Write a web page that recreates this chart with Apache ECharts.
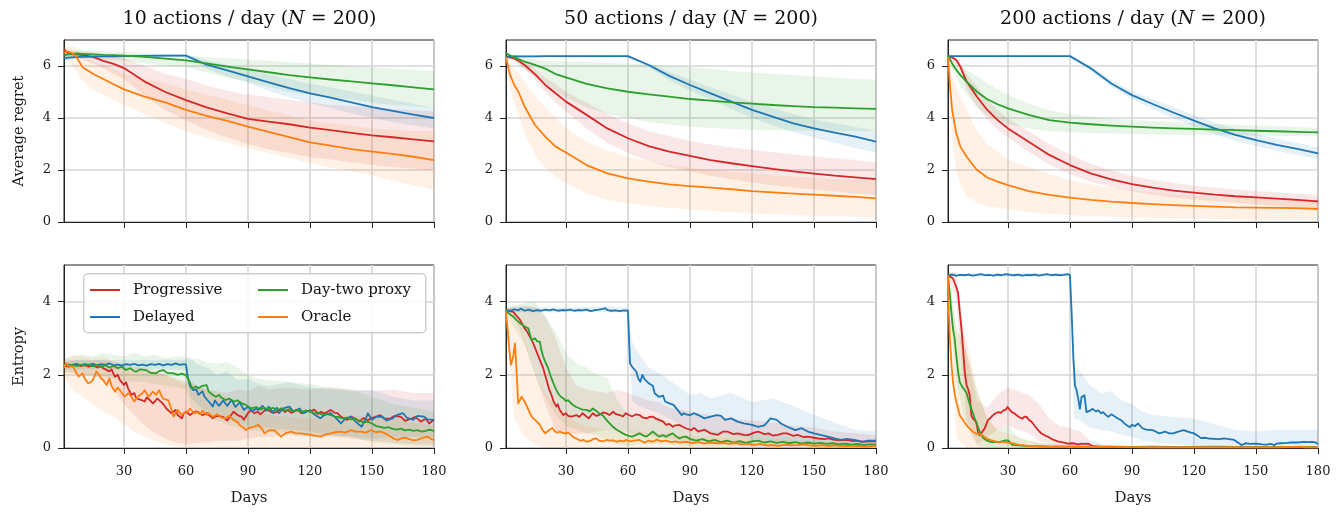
<!DOCTYPE html>
<html>
<head>
<meta charset="utf-8">
<script src="https://cdn.jsdelivr.net/npm/echarts@6/dist/echarts.min.js"></script>
<style>
html, body { margin: 0; padding: 0; background: #fff; }
#chart { width: 1343px; height: 512px; }
</style>
</head>
<body>
<div id="chart"></div>
<script>
// ---------- data ----------
var METHODS = ['Progressive', 'Delayed', 'Day-two proxy', 'Oracle'];
var PANEL_TITLES = ['10', '50', '200'];
var X_TICKS = [30, 60, 90, 120, 150, 180];
var REGRET_TICKS = [0, 2, 4, 6];
var ENTROPY_TICKS = [0, 2, 4];

// average regret, sampled on these days
var REGRET_DAYS = [1, 2, 3, 5, 7, 10, 15, 20, 25, 30, 40, 50, 60, 70, 80, 90, 100, 110, 120, 130, 140, 150, 160, 170, 180];

// 10 actions / day
var regret10_progressive = [6.65, 6.55, 6.5, 6.45, 6.45, 6.42, 6.35, 6.2, 6.08, 5.92, 5.4, 5.0, 4.69, 4.41, 4.18, 3.97, 3.86, 3.76, 3.63, 3.53, 3.43, 3.33, 3.26, 3.18, 3.1];
var regret10_progressive_lo = [6.55, 6.45, 6.4, 6.35, 6.3, 6.25, 6.1, 5.9, 5.7, 5.5, 4.85, 4.3, 3.9, 3.55, 3.25, 3.0, 2.8, 2.65, 2.5, 2.4, 2.3, 2.2, 2.12, 2.05, 1.98];
var regret10_progressive_hi = [6.75, 6.65, 6.6, 6.55, 6.55, 6.55, 6.55, 6.45, 6.4, 6.3, 6.0, 5.7, 5.5, 5.25, 5.05, 4.9, 4.8, 4.7, 4.6, 4.5, 4.45, 4.4, 4.35, 4.3, 4.25];
var regret10_delayed = [6.3, 6.31, 6.32, 6.33, 6.34, 6.35, 6.36, 6.37, 6.37, 6.38, 6.39, 6.4, 6.4, 6.05, 5.83, 5.6, 5.37, 5.15, 4.95, 4.78, 4.6, 4.42, 4.27, 4.13, 4.0];
var regret10_delayed_lo = [6.1, 6.15, 6.2, 6.25, 6.28, 6.3, 6.32, 6.32, 6.32, 6.33, 6.34, 6.35, 6.35, 5.9, 5.6, 5.35, 5.05, 4.8, 4.58, 4.38, 4.18, 4.0, 3.85, 3.72, 3.6];
var regret10_delayed_hi = [6.45, 6.44, 6.42, 6.42, 6.41, 6.41, 6.41, 6.42, 6.42, 6.43, 6.44, 6.45, 6.46, 6.2, 6.05, 5.85, 5.67, 5.5, 5.32, 5.17, 5.02, 4.86, 4.7, 4.55, 4.4];
var regret10_proxy = [6.4, 6.43, 6.45, 6.47, 6.48, 6.47, 6.45, 6.43, 6.42, 6.4, 6.35, 6.28, 6.22, 6.1, 5.98, 5.87, 5.76, 5.65, 5.56, 5.48, 5.41, 5.33, 5.26, 5.18, 5.1];
var regret10_proxy_lo = [6.2, 6.22, 6.25, 6.3, 6.32, 6.3, 6.28, 6.25, 6.22, 6.2, 6.1, 6.0, 5.95, 5.75, 5.55, 5.4, 5.2, 5.0, 4.9, 4.8, 4.7, 4.6, 4.5, 4.45, 4.4];
var regret10_proxy_hi = [6.6, 6.61, 6.62, 6.62, 6.62, 6.62, 6.6, 6.58, 6.55, 6.55, 6.5, 6.45, 6.4, 6.35, 6.3, 6.25, 6.2, 6.15, 6.1, 6.05, 6.0, 5.95, 5.9, 5.85, 5.8];
var regret10_oracle = [6.5, 6.55, 6.55, 6.5, 6.35, 5.95, 5.7, 5.5, 5.3, 5.1, 4.82, 4.6, 4.31, 4.08, 3.89, 3.67, 3.47, 3.26, 3.06, 2.94, 2.8, 2.71, 2.62, 2.51, 2.38];
var regret10_oracle_lo = [6.3, 6.25, 6.2, 6.0, 5.8, 5.4, 5.1, 4.9, 4.7, 4.5, 4.15, 3.8, 3.5, 3.25, 3.05, 2.85, 2.65, 2.45, 2.27, 2.1, 1.95, 1.8, 1.6, 1.4, 1.23];
var regret10_oracle_hi = [6.7, 6.75, 6.75, 6.75, 6.7, 6.4, 6.2, 6.05, 5.9, 5.7, 5.5, 5.35, 5.1, 4.9, 4.7, 4.5, 4.3, 4.1, 3.9, 3.8, 3.7, 3.6, 3.55, 3.5, 3.5];

// 50 actions / day
var regret50_progressive = [6.35, 6.34, 6.33, 6.29, 6.2, 6.04, 5.69, 5.27, 4.95, 4.63, 4.12, 3.6, 3.22, 2.92, 2.71, 2.54, 2.38, 2.26, 2.15, 2.04, 1.95, 1.86, 1.78, 1.72, 1.65];
var regret50_progressive_lo = [6.3, 6.28, 6.25, 6.2, 6.1, 5.9, 5.5, 5.0, 4.6, 4.25, 3.6, 3.05, 2.65, 2.35, 2.12, 1.95, 1.78, 1.65, 1.52, 1.42, 1.33, 1.25, 1.17, 1.1, 1.03];
var regret50_progressive_hi = [6.4, 6.4, 6.4, 6.38, 6.3, 6.18, 5.88, 5.55, 5.3, 5.0, 4.6, 4.15, 3.8, 3.5, 3.3, 3.12, 2.98, 2.87, 2.78, 2.68, 2.6, 2.52, 2.45, 2.38, 2.3];
var regret50_delayed = [6.35, 6.36, 6.36, 6.37, 6.37, 6.37, 6.37, 6.38, 6.38, 6.38, 6.38, 6.38, 6.38, 6.04, 5.62, 5.27, 4.95, 4.63, 4.31, 4.05, 3.79, 3.6, 3.44, 3.28, 3.09];
var regret50_delayed_lo = [6.32, 6.32, 6.32, 6.32, 6.32, 6.32, 6.32, 6.32, 6.32, 6.32, 6.32, 6.32, 6.32, 5.95, 5.45, 5.05, 4.7, 4.35, 4.0, 3.72, 3.45, 3.25, 3.05, 2.85, 2.65];
var regret50_delayed_hi = [6.42, 6.42, 6.42, 6.42, 6.42, 6.42, 6.42, 6.42, 6.42, 6.42, 6.42, 6.42, 6.42, 6.12, 5.78, 5.48, 5.18, 4.9, 4.62, 4.38, 4.14, 3.95, 3.8, 3.65, 3.5];
var regret50_proxy = [6.5, 6.45, 6.4, 6.33, 6.27, 6.17, 6.04, 5.9, 5.69, 5.56, 5.31, 5.14, 5.01, 4.91, 4.82, 4.73, 4.67, 4.6, 4.55, 4.5, 4.46, 4.42, 4.4, 4.37, 4.35];
var regret50_proxy_lo = [6.45, 6.35, 6.3, 6.2, 6.05, 5.85, 5.6, 5.35, 5.05, 4.8, 4.4, 4.15, 3.99, 3.85, 3.75, 3.67, 3.62, 3.58, 3.55, 3.53, 3.52, 3.51, 3.5, 3.5, 3.5];
var regret50_proxy_hi = [6.55, 6.53, 6.5, 6.45, 6.4, 6.35, 6.25, 6.2, 6.18, 6.17, 6.15, 6.12, 6.1, 6.05, 6.0, 5.95, 5.9, 5.8, 5.75, 5.7, 5.65, 5.6, 5.55, 5.5, 5.48];
var regret50_oracle = [6.35, 5.97, 5.65, 5.27, 5.01, 4.44, 3.73, 3.28, 2.9, 2.67, 2.19, 1.87, 1.68, 1.55, 1.45, 1.38, 1.32, 1.26, 1.19, 1.14, 1.09, 1.05, 1.01, 0.97, 0.91];
var regret50_oracle_lo = [6.3, 5.7, 5.2, 4.6, 4.1, 3.4, 2.6, 2.1, 1.75, 1.5, 1.1, 0.85, 0.72, 0.62, 0.55, 0.48, 0.43, 0.38, 0.33, 0.3, 0.27, 0.24, 0.22, 0.2, 0.18];
var regret50_oracle_hi = [6.4, 6.25, 6.1, 5.9, 5.7, 5.4, 4.85, 4.4, 4.0, 3.6, 3.1, 2.75, 2.5, 2.35, 2.2, 2.1, 2.0, 1.93, 1.87, 1.8, 1.75, 1.7, 1.65, 1.62, 1.6];

// 200 actions / day
var regret200_progressive = [6.35, 6.35, 6.33, 6.23, 5.97, 5.4, 4.82, 4.31, 3.92, 3.6, 3.09, 2.58, 2.19, 1.87, 1.64, 1.46, 1.32, 1.21, 1.13, 1.05, 0.99, 0.95, 0.9, 0.85, 0.79];
var regret200_progressive_lo = [6.3, 6.3, 6.28, 6.15, 5.8, 5.1, 4.45, 3.95, 3.55, 3.25, 2.7, 2.2, 1.85, 1.55, 1.35, 1.18, 1.05, 0.95, 0.87, 0.8, 0.74, 0.68, 0.62, 0.58, 0.53];
var regret200_progressive_hi = [6.4, 6.4, 6.38, 6.3, 6.12, 5.7, 5.2, 4.7, 4.3, 3.98, 3.5, 3.0, 2.6, 2.25, 1.98, 1.78, 1.62, 1.5, 1.4, 1.32, 1.25, 1.19, 1.14, 1.09, 1.05];
var regret200_delayed = [6.38, 6.38, 6.38, 6.38, 6.38, 6.38, 6.38, 6.38, 6.38, 6.38, 6.38, 6.38, 6.38, 5.91, 5.33, 4.88, 4.54, 4.21, 3.9, 3.6, 3.35, 3.15, 2.97, 2.81, 2.64];
var regret200_delayed_lo = [6.35, 6.35, 6.35, 6.35, 6.35, 6.35, 6.35, 6.35, 6.35, 6.35, 6.35, 6.35, 6.35, 5.82, 5.2, 4.72, 4.35, 4.0, 3.68, 3.38, 3.12, 2.92, 2.74, 2.58, 2.42];
var regret200_delayed_hi = [6.42, 6.42, 6.42, 6.42, 6.42, 6.42, 6.42, 6.42, 6.42, 6.42, 6.42, 6.42, 6.42, 6.0, 5.45, 5.03, 4.72, 4.42, 4.12, 3.83, 3.58, 3.38, 3.2, 3.04, 2.88];
var regret200_proxy = [6.4, 6.25, 6.1, 5.85, 5.65, 5.4, 5.01, 4.72, 4.53, 4.37, 4.12, 3.92, 3.82, 3.76, 3.71, 3.67, 3.63, 3.6, 3.58, 3.55, 3.53, 3.51, 3.49, 3.47, 3.45];
var regret200_proxy_lo = [6.35, 6.1, 5.9, 5.55, 5.25, 4.9, 4.4, 4.1, 3.9, 3.78, 3.6, 3.5, 3.45, 3.42, 3.4, 3.38, 3.37, 3.36, 3.35, 3.34, 3.33, 3.32, 3.31, 3.3, 3.3];
var regret200_proxy_hi = [6.45, 6.35, 6.3, 6.15, 6.0, 5.85, 5.6, 5.35, 5.1, 4.9, 4.55, 4.3, 4.15, 4.05, 3.97, 3.92, 3.88, 3.84, 3.8, 3.77, 3.74, 3.71, 3.68, 3.65, 3.62];
var regret200_oracle = [6.35, 5.2, 4.31, 3.41, 2.9, 2.51, 2.0, 1.71, 1.55, 1.42, 1.19, 1.04, 0.94, 0.85, 0.78, 0.73, 0.69, 0.65, 0.62, 0.59, 0.56, 0.55, 0.54, 0.53, 0.5];
var regret200_oracle_lo = [6.3, 4.4, 3.2, 2.0, 1.45, 1.0, 0.75, 0.62, 0.55, 0.48, 0.38, 0.32, 0.27, 0.23, 0.2, 0.18, 0.16, 0.14, 0.13, 0.12, 0.11, 0.1, 0.09, 0.09, 0.08];
var regret200_oracle_hi = [6.4, 6.1, 5.6, 5.2, 4.8, 4.35, 3.5, 3.0, 2.7, 2.4, 2.1, 1.85, 1.62, 1.45, 1.32, 1.22, 1.14, 1.07, 1.01, 0.96, 0.92, 0.9, 0.88, 0.86, 0.85];

// entropy: [day, value] pairs
var entropy10_progressive = [[1,2.25],[3,2.22],[5,2.26],[7,2.28],[9,2.24],[11,2.27],[13,2.22],[15,2.27],[17,2.2],[19,2.23],[20,2.18],[22,2.12],[23,2.09],[24,2.15],[25.6,1.95],[27,2.0],[28,1.86],[30,1.72],[31,1.8],[32,1.63],[33.7,1.45],[35,1.5],[36,1.36],[38.5,1.31],[40,1.27],[41,1.38],[42.5,1.31],[44,1.22],[45,1.27],[46,1.35],[47,1.31],[49,1.2],[50.5,1.08],[52,1.0],[53,0.95],[55,1.04],[56,0.9],[58,0.81],[59,0.95],[60,0.99],[62,0.9],[63,0.95],[65,1.0],[68,0.9],[70,0.95],[73,0.81],[75,0.88],[78,0.85],[80,0.75],[83,0.99],[85,0.9],[87,0.85],[88,0.77],[90,0.95],[91.5,1.04],[93,0.95],[94.7,0.99],[96,0.92],[98,1.02],[99.6,1.04],[102,0.96],[104.4,0.99],[106,1.08],[108,0.98],[109,1.04],[111,0.96],[114,1.04],[116,0.95],[118,1.02],[120.5,0.99],[122,1.05],[124,0.93],[125.3,0.99],[127,0.94],[130,1.04],[132,0.96],[133.4,0.95],[135,0.85],[138,0.77],[140,0.85],[142,0.8],[143.8,0.72],[146,0.82],[148,0.76],[149.5,0.81],[152,0.86],[154,0.9],[156,0.8],[159,0.81],[161,0.88],[164,0.85],[166,0.74],[168.8,0.8],[171,0.85],[173.6,0.72],[176,0.8],[177.7,0.67],[180,0.77]];
var entropy10_delayed = [[1,2.25],[3,2.28],[5,2.27],[7,2.3],[9,2.26],[11,2.29],[13,2.27],[15,2.3],[17,2.26],[19,2.29],[21,2.27],[23,2.31],[25,2.26],[27,2.28],[29,2.25],[31,2.29],[33,2.27],[35,2.3],[37,2.26],[39,2.28],[41,2.25],[43,2.29],[45,2.27],[47,2.3],[49,2.26],[51,2.29],[53,2.27],[55,2.31],[57,2.27],[59,2.29],[60,2.28],[61,1.9],[62,1.68],[63.5,1.58],[65,1.6],[66,1.45],[68,1.55],[69,1.4],[71,1.27],[73,1.13],[74,1.3],[76,1.15],[78,1.3],[80,1.15],[82,1.31],[84,1.12],[86,1.25],[88,1.04],[90,1.13],[92,1.0],[94,1.08],[95,1.04],[97,1.15],[99,1.02],[100,1.13],[102,0.98],[104,1.1],[105,0.95],[107,1.08],[110,1.13],[112,1.0],[115,1.08],[117,0.95],[120,1.04],[122,0.92],[125,0.81],[127,0.9],[130,0.95],[132,0.85],[135,0.67],[137,0.8],[140,0.86],[142,0.72],[145,0.58],[147,0.8],[148,0.95],[150,0.77],[152,0.85],[155,0.86],[157,0.75],[160,0.81],[162,0.9],[165,0.95],[167,0.82],[170,0.77],[172,0.88],[175,0.86],[177,0.78],[180,0.77]];
var entropy10_proxy = [[1,2.27],[3,2.25],[5,2.28],[7,2.24],[9,2.27],[11,2.25],[13,2.28],[15,2.23],[17,2.27],[19,2.22],[21,2.26],[23,2.2],[25,2.24],[27,2.18],[29,2.22],[31,2.13],[33,2.18],[35,2.1],[36,2.09],[38,2.15],[41,2.12],[43,2.05],[45.5,2.04],[47,2.1],[49,2.13],[51,2.05],[54,2.04],[56,2.0],[58,2.03],[60,1.99],[61,1.9],[62,1.77],[63,1.63],[65,1.68],[66,1.63],[68,1.7],[70,1.72],[71,1.54],[73,1.45],[74.5,1.4],[76,1.45],[77,1.38],[79,1.31],[81,1.35],[83,1.27],[85,1.3],[87,1.22],[89,1.18],[90,1.13],[92,1.08],[94,1.12],[96,1.05],[98,1.1],[100,1.05],[102,1.1],[104,1.03],[106,1.08],[108,1.02],[110,1.06],[112,1.0],[114,1.05],[116,0.98],[118,1.02],[120,1.0],[122,0.94],[124,0.97],[126,0.9],[128,0.93],[130,0.9],[132,0.86],[134,0.84],[136,0.81],[138,0.83],[140,0.78],[142,0.8],[144,0.74],[146,0.7],[148,0.72],[150,0.67],[152,0.6],[154,0.58],[156,0.55],[158,0.57],[160,0.52],[162,0.5],[164,0.53],[166,0.48],[168,0.5],[170,0.47],[172,0.49],[174,0.45],[176,0.47],[178,0.5],[180,0.46]];
var entropy10_oracle = [[1,2.2],[2,2.31],[3,2.25],[5.5,2.22],[7,2.05],[8,1.95],[10,2.04],[11,1.9],[12.7,1.77],[14,1.8],[15,1.86],[16.7,2.09],[18,2.0],[19,1.9],[20,1.85],[21.6,1.72],[23,1.9],[24,1.7],[25.6,1.54],[27,1.65],[28,1.58],[30.4,1.4],[32,1.5],[33,1.45],[35,1.27],[36,1.35],[37.7,1.45],[39,1.5],[40,1.58],[42,1.4],[44,1.54],[45.5,1.45],[47,1.58],[48,1.45],[49,1.35],[51.5,1.3],[53,1.05],[54,0.86],[55,0.95],[56,1.04],[58,0.9],[59,0.95],[61,1.0],[62,1.08],[64,0.95],[65,0.98],[67,0.92],[68,1.02],[70,0.9],[71,0.95],[73,0.85],[75,0.92],[77,0.84],[79,0.81],[81,0.88],[83,0.77],[85,0.7],[86,0.63],[88,0.55],[89,0.49],[91,0.56],[93,0.58],[95,0.63],[97,0.5],[98,0.4],[100,0.48],[102.8,0.49],[104,0.42],[106,0.31],[108,0.4],[110.8,0.45],[113,0.4],[115.7,0.4],[118,0.38],[120.5,0.36],[123,0.33],[125.3,0.31],[127,0.36],[130,0.4],[132,0.43],[135,0.45],[137,0.42],[140,0.49],[142,0.45],[144.7,0.45],[147,0.42],[149.5,0.49],[152,0.43],[154.3,0.45],[157,0.38],[159,0.31],[160.5,0.26],[162.4,0.22],[165,0.28],[167.2,0.26],[170,0.21],[172,0.22],[174.5,0.28],[176.8,0.31],[178.5,0.25],[180,0.22]];

var entropy50_progressive = [[1,3.75],[3,3.74],[4.5,3.72],[6,3.62],[7.8,3.5],[10,3.27],[11,3.2],[12.6,3.04],[14.2,2.86],[15.8,2.63],[17.4,2.4],[19,2.18],[20.6,1.86],[22,1.58],[23,1.45],[24,1.27],[25.4,1.13],[26,1.2],[27,1.04],[28.7,0.9],[30,0.95],[31,0.88],[32.7,0.86],[35,0.9],[36.5,0.85],[38,0.95],[39.5,0.88],[41,0.81],[43,0.95],[44.5,0.88],[46,0.9],[48,0.97],[49.6,0.95],[51,0.9],[52.8,0.99],[54,0.93],[56,0.9],[57.5,0.86],[59,0.95],[60.5,0.9],[62,0.86],[64,0.92],[65.6,0.9],[67,0.84],[69,0.81],[70.5,0.85],[72,0.86],[73.5,0.8],[75,0.77],[77,0.72],[78.5,0.63],[80,0.66],[81.7,0.58],[83,0.62],[85,0.63],[86.5,0.58],[88,0.54],[90.6,0.49],[92,0.55],[94,0.45],[97,0.5],[100,0.4],[103.5,0.36],[106,0.45],[108,0.45],[111,0.38],[113,0.4],[116,0.36],[118,0.35],[121,0.42],[123,0.45],[126,0.38],[128,0.4],[130,0.34],[132.5,0.36],[135,0.4],[137,0.4],[140,0.33],[142,0.36],[145,0.3],[147,0.31],[150,0.28],[152,0.26],[155,0.24],[157,0.26],[160,0.22],[163,0.21],[166,0.22],[169,0.19],[171,0.2],[174,0.17],[177.6,0.19],[180,0.18]];
var entropy50_delayed = [[1,3.77],[3,3.75],[5,3.79],[7,3.76],[8,3.81],[10,3.75],[12,3.78],[14,3.74],[16,3.77],[18,3.75],[20,3.78],[22,3.76],[24,3.79],[26,3.75],[28,3.77],[30,3.76],[32,3.78],[34,3.75],[36,3.77],[38,3.76],[40,3.78],[42,3.74],[44,3.77],[46,3.78],[48,3.8],[49,3.82],[50,3.77],[52,3.75],[54,3.76],[56,3.74],[58,3.76],[60,3.75],[61,2.31],[62,2.22],[64,2.09],[65,1.9],[66,1.81],[67,2.0],[68,1.88],[70,1.77],[72,1.7],[73,1.49],[75,1.4],[77,1.43],[78,1.27],[80,1.22],[82,1.18],[84,1.04],[86,0.9],[87,0.95],[88,0.92],[90,0.9],[92,0.95],[94,0.9],[97,0.81],[100,0.86],[103,0.9],[105,0.88],[107,0.77],[110,0.81],[113,0.72],[116,0.67],[120,0.63],[123,0.58],[126,0.62],[129,0.81],[132,0.77],[134,0.67],[137,0.58],[141,0.49],[144,0.54],[147,0.45],[150,0.4],[153,0.36],[156.6,0.31],[160,0.26],[163,0.22],[166,0.25],[169.5,0.22],[173,0.17],[176,0.2],[180,0.2]];
var entropy50_proxy = [[1,3.75],[3,3.65],[4.5,3.59],[6,3.5],[7.8,3.41],[10,3.32],[11.8,3.27],[12.6,3.1],[13.4,2.95],[15,3.0],[16,2.92],[17.4,2.9],[18,2.7],[19,2.5],[20,2.35],[21.4,2.18],[23,1.9],[24.6,1.68],[26.2,1.49],[27.5,1.4],[28.7,1.36],[30,1.28],[31,1.31],[32,1.25],[33.5,1.17],[35,1.12],[36.7,1.08],[38,1.05],[40,1.04],[41.5,1.0],[43,1.08],[44.5,1.02],[46,0.95],[48,0.88],[49.6,0.77],[51,0.68],[52.8,0.58],[54,0.52],[56,0.45],[57.5,0.4],[59,0.36],[60.5,0.33],[62,0.31],[64,0.36],[65.6,0.4],[67,0.35],[69,0.31],[70.5,0.38],[72,0.45],[73.5,0.38],[75,0.31],[77,0.35],[78.5,0.31],[80,0.36],[81.7,0.4],[83,0.33],[85,0.26],[86.5,0.3],[88,0.31],[90,0.25],[93,0.2],[96,0.24],[99,0.18],[102,0.22],[105,0.16],[108,0.2],[111,0.15],[114,0.19],[117,0.14],[120,0.18],[123,0.2],[126,0.15],[129,0.18],[132,0.14],[135,0.17],[138,0.13],[141,0.16],[144,0.12],[147,0.15],[150,0.12],[153,0.14],[156,0.11],[159,0.13],[162,0.1],[165,0.12],[168,0.09],[171,0.11],[174,0.08],[177,0.1],[180,0.09]];
var entropy50_oracle = [[1,3.75],[1.8,3.22],[2.6,2.68],[3.4,2.27],[4.5,2.5],[5.3,2.86],[6,2.22],[6.9,1.22],[7.7,1.3],[8.5,1.4],[9.2,1.35],[10,1.27],[11,1.15],[12.6,0.95],[13.5,0.85],[15,0.77],[16,0.72],[17.4,0.63],[18.5,0.5],[20,0.4],[21,0.45],[22,0.49],[23.5,0.55],[24.6,0.45],[26,0.42],[27,0.45],[28,0.42],[29.5,0.4],[31,0.42],[32,0.38],[33.5,0.3],[35,0.26],[37,0.2],[38.5,0.22],[40,0.17],[42,0.2],[43,0.24],[44.7,0.26],[46,0.2],[48,0.18],[49.6,0.22],[51,0.2],[53,0.21],[54.5,0.17],[56,0.2],[58,0.18],[59,0.22],[61,0.18],[63,0.2],[65.6,0.22],[68,0.15],[70,0.2],[72,0.17],[74,0.23],[76,0.18],[78.5,0.2],[81,0.16],[83,0.18],[85,0.15],[88,0.17],[91,0.13],[94,0.16],[97,0.12],[100,0.15],[103,0.13],[106,0.14],[109,0.11],[112,0.14],[115,0.1],[118,0.12],[121,0.08],[124,0.11],[127,0.07],[130,0.08],[133,0.06],[136,0.09],[139,0.07],[142,0.08],[145,0.1],[148,0.07],[151,0.06],[154,0.08],[157,0.05],[160,0.07],[163,0.05],[166,0.06],[169,0.05],[172,0.06],[175,0.04],[178,0.05],[180,0.05]];

var entropy200_progressive = [[1,4.72],[3.4,4.63],[5,4.4],[5.9,4.22],[6.7,3.72],[7.5,3.26],[8.3,2.71],[9.1,2.08],[10,1.71],[10.8,1.6],[11.5,1.44],[12.3,0.89],[13.1,0.8],[14,0.85],[14.7,0.71],[15.5,0.44],[16.3,0.35],[17.1,0.3],[18.7,0.53],[20.3,0.76],[21.5,0.82],[22.7,0.89],[24,0.95],[25.4,0.98],[26.5,0.96],[27.9,1.03],[29,1.05],[29.8,1.12],[30.8,1.05],[31.9,0.98],[33,0.95],[34.3,0.89],[35.5,0.84],[37,0.8],[38,0.86],[39,0.85],[40,0.78],[41.5,0.71],[43,0.6],[44,0.53],[45.2,0.45],[46.4,0.39],[48,0.34],[49.6,0.3],[51,0.25],[52.8,0.21],[54,0.18],[56,0.16],[57.5,0.14],[59,0.12],[61,0.13],[62.4,0.12],[64,0.1],[65.6,0.12],[67,0.11],[68.8,0.12],[70,0.08],[71,0.05],[75,0.03],[85,0.03],[100,0.02],[120,0.02],[140,0.02],[160,0.02],[180,0.02]];
var entropy200_delayed = [[1,4.72],[3,4.74],[5,4.71],[7,4.73],[9,4.72],[11,4.74],[13,4.71],[15,4.73],[17,4.75],[19,4.72],[21,4.73],[23,4.71],[25,4.74],[27,4.72],[29,4.75],[31,4.73],[33,4.72],[35,4.74],[37,4.71],[39,4.73],[41,4.72],[43,4.74],[45,4.71],[47,4.73],[49,4.75],[51,4.72],[53,4.74],[55,4.72],[57,4.73],[59,4.75],[60,4.72],[60.8,3.72],[61.6,2.53],[62.4,1.71],[63.2,1.58],[64,1.35],[64.8,1.07],[65.6,1.39],[67,1.44],[68,0.98],[69.7,1.02],[71,1.07],[72.5,1.0],[73.7,1.03],[75,0.95],[76,0.98],[77.5,0.9],[78.5,0.85],[80,0.92],[81,0.89],[82,0.85],[83.4,0.8],[85,0.75],[86.6,0.66],[88,0.6],[89,0.57],[90,0.63],[91.5,0.6],[93,0.67],[95,0.54],[97,0.5],[100,0.49],[101.5,0.45],[103,0.4],[104.5,0.42],[106,0.45],[108,0.4],[110,0.4],[112,0.44],[115,0.49],[117,0.45],[118.6,0.42],[120,0.4],[122,0.33],[123.4,0.27],[125,0.28],[127,0.26],[130,0.25],[132,0.24],[134.7,0.26],[137,0.24],[139.5,0.22],[141,0.16],[142,0.12],[143,0.08],[145,0.13],[147,0.11],[150,0.12],[153,0.1],[155,0.09],[157,0.11],[159,0.08],[160,0.12],[162,0.13],[165,0.14],[167,0.15],[170,0.15],[173.3,0.17],[175,0.16],[177.4,0.17],[179,0.15],[180,0.11]];
var entropy200_proxy = [[1,4.72],[1.8,4.26],[2.6,3.72],[3.4,3.26],[4.2,2.99],[5,2.53],[5.9,2.08],[6.7,1.8],[7.9,1.67],[9.1,1.58],[10,1.5],[10.7,1.35],[11.5,1.2],[12.3,1.07],[13.1,0.95],[14,0.8],[14.7,0.7],[15.5,0.57],[16.3,0.45],[17.1,0.35],[18,0.28],[19.5,0.21],[21,0.18],[22,0.16],[24,0.17],[25.4,0.16],[27,0.18],[28.7,0.21],[30.3,0.2],[31,0.15],[31.9,0.09],[33,0.08],[35,0.07],[40,0.05],[50,0.04],[60,0.04],[70,0.04],[80,0.04],[90,0.03],[100,0.04],[110,0.03],[120,0.03],[130,0.04],[140,0.03],[150,0.03],[160,0.03],[170,0.03],[180,0.03]];
var entropy200_oracle = [[1,4.72],[1.4,3.72],[1.9,2.99],[2.6,2.35],[3.4,1.8],[4.2,1.48],[5,1.26],[5.9,1.07],[6.7,0.89],[8.3,0.76],[10,0.62],[11.5,0.53],[13.1,0.44],[14.7,0.39],[16.3,0.39],[17.5,0.35],[18.7,0.3],[20,0.25],[22,0.21],[24,0.18],[25.4,0.16],[28,0.16],[30.3,0.15],[32,0.13],[35,0.09],[38,0.07],[40,0.05],[45,0.05],[50,0.04],[60,0.03],[80,0.03],[100,0.02],[120,0.02],[140,0.02],[160,0.02],[172,0.04],[174,0.02],[180,0.02]];

// entropy spread bands, sampled on these days
var BAND_DAYS = [1, 5, 10, 15, 20, 25, 30, 35, 40, 45, 50, 55, 60, 62, 65, 70, 75, 80, 85, 90, 95, 100, 110, 120, 130, 140, 150, 160, 170, 180];

var entropy10_progressive_lo = [2.1, 2.05, 2.0, 2.0, 1.85, 1.6, 1.2, 0.9, 0.6, 0.4, 0.25, 0.15, 0.1, 0.1, 0.15, 0.15, 0.2, 0.2, 0.2, 0.25, 0.3, 0.3, 0.35, 0.3, 0.3, 0.25, 0.2, 0.15, 0.1, 0.1];
var entropy10_progressive_hi = [2.35, 2.4, 2.4, 2.4, 2.4, 2.35, 2.3, 2.2, 2.2, 2.1, 2.0, 1.9, 1.8, 1.85, 1.7, 1.6, 1.55, 1.5, 1.6, 1.55, 1.7, 1.6, 1.65, 1.6, 1.65, 1.6, 1.55, 1.6, 1.5, 1.5];
var entropy10_delayed_lo = [2.15, 2.15, 2.14, 2.16, 2.15, 2.14, 2.15, 2.16, 2.14, 2.15, 2.15, 2.14, 2.12, 1.4, 1.2, 1.0, 0.85, 0.8, 0.7, 0.6, 0.55, 0.55, 0.5, 0.45, 0.35, 0.3, 0.25, 0.3, 0.3, 0.3];
var entropy10_delayed_hi = [2.4, 2.4, 2.42, 2.4, 2.41, 2.4, 2.42, 2.4, 2.41, 2.4, 2.42, 2.4, 2.42, 2.5, 2.3, 2.2, 2.0, 2.1, 1.85, 1.9, 1.75, 1.7, 1.8, 1.65, 1.6, 1.55, 1.6, 1.4, 1.3, 1.3];
var entropy10_proxy_lo = [2.05, 2.05, 2.0, 1.95, 1.95, 1.9, 1.85, 1.8, 1.8, 1.75, 1.7, 1.65, 1.6, 1.2, 1.0, 0.9, 0.75, 0.65, 0.55, 0.5, 0.45, 0.45, 0.4, 0.35, 0.35, 0.3, 0.15, 0.1, 0.05, 0.05];
var entropy10_proxy_hi = [2.45, 2.5, 2.55, 2.5, 2.6, 2.55, 2.5, 2.6, 2.5, 2.55, 2.45, 2.5, 2.5, 2.4, 2.45, 2.35, 2.3, 2.35, 2.2, 2.0, 1.9, 1.85, 1.8, 1.75, 1.65, 1.6, 1.4, 1.2, 1.1, 1.0];
var entropy10_oracle_lo = [2.0, 1.6, 1.4, 1.2, 1.0, 0.85, 0.65, 0.45, 0.3, 0.2, 0.1, 0.05, 0, 0, 0.02, 0, 0, 0, 0, 0, 0, 0, 0, 0, 0, 0, 0, 0, 0, 0];
var entropy10_oracle_hi = [2.4, 2.55, 2.5, 2.45, 2.5, 2.35, 2.2, 2.15, 2.1, 2.1, 2.0, 1.85, 1.75, 1.8, 1.7, 1.6, 1.5, 1.4, 1.2, 1.1, 1.0, 0.9, 0.85, 0.8, 0.85, 0.9, 0.85, 0.8, 0.7, 0.6];

var entropy50_progressive_lo = [3.7, 3.6, 2.9, 2.0, 1.2, 0.5, 0.35, 0.4, 0.4, 0.45, 0.5, 0.5, 0.45, 0.4, 0.4, 0.35, 0.3, 0.25, 0.2, 0.15, 0.12, 0.1, 0.08, 0.06, 0.05, 0.05, 0.04, 0.04, 0.03, 0.03];
var entropy50_progressive_hi = [3.8, 3.85, 3.9, 3.85, 3.6, 3.0, 2.2, 1.7, 1.6, 1.55, 1.5, 1.6, 1.5, 1.45, 1.4, 1.3, 1.25, 1.1, 1.05, 1.0, 0.95, 0.9, 0.8, 0.75, 0.7, 0.6, 0.55, 0.45, 0.4, 0.35];
var entropy50_delayed_lo = [3.7, 3.7, 3.72, 3.7, 3.71, 3.7, 3.72, 3.7, 3.71, 3.72, 3.7, 3.71, 3.7, 1.3, 1.15, 1.05, 0.95, 0.8, 0.65, 0.55, 0.45, 0.4, 0.35, 0.25, 0.2, 0.15, 0.1, 0.05, 0.05, 0.05];
var entropy50_delayed_hi = [3.85, 3.84, 3.85, 3.84, 3.85, 3.84, 3.85, 3.86, 3.85, 3.86, 3.87, 3.85, 3.84, 2.9, 2.6, 2.2, 2.05, 1.85, 1.65, 1.45, 1.5, 1.35, 1.5, 1.25, 1.35, 1.15, 0.9, 0.7, 0.5, 0.45];
var entropy50_proxy_lo = [3.7, 3.3, 2.8, 2.0, 1.4, 0.9, 0.6, 0.5, 0.4, 0.35, 0.2, 0.1, 0.05, 0.05, 0.1, 0.1, 0.1, 0.1, 0.05, 0.05, 0.05, 0.05, 0.05, 0.03, 0.03, 0.02, 0.02, 0.02, 0.02, 0.02];
var entropy50_proxy_hi = [3.8, 3.9, 3.95, 4.0, 3.6, 3.2, 2.6, 2.3, 2.2, 2.0, 1.9, 1.3, 0.9, 0.8, 0.9, 0.8, 0.85, 0.7, 0.6, 0.5, 0.5, 0.45, 0.4, 0.4, 0.35, 0.3, 0.3, 0.25, 0.2, 0.2];
var entropy50_oracle_lo = [3.6, 0.8, 0.3, 0.1, 0, 0, 0, 0, 0, 0, 0, 0, 0, 0, 0, 0, 0, 0, 0, 0, 0, 0, 0, 0, 0, 0, 0, 0, 0, 0];
var entropy50_oracle_hi = [3.85, 3.8, 3.0, 2.0, 1.5, 1.1, 0.9, 0.7, 0.6, 0.55, 0.5, 0.5, 0.45, 0.45, 0.45, 0.4, 0.4, 0.4, 0.35, 0.35, 0.3, 0.3, 0.3, 0.25, 0.25, 0.2, 0.2, 0.18, 0.15, 0.15];

var entropy200_progressive_lo = [4.65, 4.1, 0.8, 0.1, 0.3, 0.5, 0.6, 0.5, 0.4, 0.2, 0.1, 0.05, 0.05, 0.04, 0.04, 0.02, 0.01, 0.01, 0.01, 0.01, 0.01, 0.01, 0.01, 0.01, 0.01, 0.01, 0.01, 0.01, 0.01, 0.01];
var entropy200_progressive_hi = [4.8, 4.78, 2.6, 1.3, 1.1, 1.45, 1.65, 1.55, 1.45, 1.2, 0.8, 0.6, 0.55, 0.5, 0.45, 0.2, 0.1, 0.08, 0.06, 0.05, 0.05, 0.05, 0.05, 0.05, 0.05, 0.05, 0.05, 0.05, 0.05, 0.05];
var entropy200_delayed_lo = [4.68, 4.68, 4.69, 4.68, 4.69, 4.68, 4.69, 4.68, 4.68, 4.69, 4.68, 4.69, 4.68, 0.8, 0.75, 0.55, 0.5, 0.45, 0.35, 0.3, 0.2, 0.15, 0.1, 0.05, 0.03, 0.02, 0.01, 0.01, 0.01, 0.01];
var entropy200_delayed_hi = [4.78, 4.77, 4.78, 4.78, 4.77, 4.78, 4.78, 4.77, 4.78, 4.78, 4.77, 4.78, 4.78, 2.2, 2.1, 1.7, 1.5, 1.55, 1.3, 1.2, 1.0, 0.9, 0.85, 0.8, 0.65, 0.5, 0.45, 0.5, 0.5, 0.5];
var entropy200_proxy_lo = [4.65, 1.8, 0.6, 0.05, 0.02, 0.02, 0.05, 0.02, 0.01, 0.01, 0.01, 0.01, 0.01, 0.01, 0.01, 0.01, 0.01, 0.01, 0.01, 0.01, 0.01, 0.01, 0.01, 0.01, 0.01, 0.01, 0.01, 0.01, 0.01, 0.01];
var entropy200_proxy_hi = [4.8, 3.3, 2.6, 1.6, 0.8, 0.5, 0.6, 0.3, 0.2, 0.15, 0.1, 0.08, 0.08, 0.07, 0.07, 0.06, 0.06, 0.05, 0.05, 0.05, 0.05, 0.05, 0.05, 0.05, 0.05, 0.05, 0.05, 0.05, 0.05, 0.05];
var entropy200_oracle_lo = [4.6, 0.3, 0, 0, 0, 0, 0, 0, 0, 0, 0, 0, 0, 0, 0, 0, 0, 0, 0, 0, 0, 0, 0, 0, 0, 0, 0, 0, 0, 0];
var entropy200_oracle_hi = [4.8, 3.2, 3.0, 1.6, 0.8, 0.5, 0.4, 0.3, 0.2, 0.15, 0.12, 0.1, 0.08, 0.08, 0.07, 0.06, 0.05, 0.05, 0.05, 0.05, 0.05, 0.05, 0.05, 0.05, 0.05, 0.05, 0.05, 0.05, 0.05, 0.05];

// ---------- layout & style ----------
var FONT = "'DejaVu Serif', serif";
var COLORS = {
    'Progressive': '#d62728',
    'Delayed': '#1f77b4',
    'Day-two proxy': '#2ca02c',
    'Oracle': '#ff7f0e'
};
var COL_LEFT = [64, 506, 948];
var COL_WIDTH = 370;
var ROW_TOP = [40, 265];
var ROW_HEIGHT = [182, 183];

function zip(xs, ys) {
    return xs.map(function (x, i) { return [x, ys[i]]; });
}

var panels = [
    { row: 0, col: 0, lines: {
        'Progressive': zip(REGRET_DAYS, regret10_progressive),
        'Delayed': zip(REGRET_DAYS, regret10_delayed),
        'Day-two proxy': zip(REGRET_DAYS, regret10_proxy),
        'Oracle': zip(REGRET_DAYS, regret10_oracle)
      }, bandDays: REGRET_DAYS, bands: {
        'Progressive': [regret10_progressive_lo, regret10_progressive_hi],
        'Delayed': [regret10_delayed_lo, regret10_delayed_hi],
        'Day-two proxy': [regret10_proxy_lo, regret10_proxy_hi],
        'Oracle': [regret10_oracle_lo, regret10_oracle_hi]
      } },
    { row: 0, col: 1, lines: {
        'Progressive': zip(REGRET_DAYS, regret50_progressive),
        'Delayed': zip(REGRET_DAYS, regret50_delayed),
        'Day-two proxy': zip(REGRET_DAYS, regret50_proxy),
        'Oracle': zip(REGRET_DAYS, regret50_oracle)
      }, bandDays: REGRET_DAYS, bands: {
        'Progressive': [regret50_progressive_lo, regret50_progressive_hi],
        'Delayed': [regret50_delayed_lo, regret50_delayed_hi],
        'Day-two proxy': [regret50_proxy_lo, regret50_proxy_hi],
        'Oracle': [regret50_oracle_lo, regret50_oracle_hi]
      } },
    { row: 0, col: 2, lines: {
        'Progressive': zip(REGRET_DAYS, regret200_progressive),
        'Delayed': zip(REGRET_DAYS, regret200_delayed),
        'Day-two proxy': zip(REGRET_DAYS, regret200_proxy),
        'Oracle': zip(REGRET_DAYS, regret200_oracle)
      }, bandDays: REGRET_DAYS, bands: {
        'Progressive': [regret200_progressive_lo, regret200_progressive_hi],
        'Delayed': [regret200_delayed_lo, regret200_delayed_hi],
        'Day-two proxy': [regret200_proxy_lo, regret200_proxy_hi],
        'Oracle': [regret200_oracle_lo, regret200_oracle_hi]
      } },
    { row: 1, col: 0, lines: {
        'Progressive': entropy10_progressive,
        'Delayed': entropy10_delayed,
        'Day-two proxy': entropy10_proxy,
        'Oracle': entropy10_oracle
      }, bandDays: BAND_DAYS, bands: {
        'Progressive': [entropy10_progressive_lo, entropy10_progressive_hi],
        'Delayed': [entropy10_delayed_lo, entropy10_delayed_hi],
        'Day-two proxy': [entropy10_proxy_lo, entropy10_proxy_hi],
        'Oracle': [entropy10_oracle_lo, entropy10_oracle_hi]
      } },
    { row: 1, col: 1, lines: {
        'Progressive': entropy50_progressive,
        'Delayed': entropy50_delayed,
        'Day-two proxy': entropy50_proxy,
        'Oracle': entropy50_oracle
      }, bandDays: BAND_DAYS, bands: {
        'Progressive': [entropy50_progressive_lo, entropy50_progressive_hi],
        'Delayed': [entropy50_delayed_lo, entropy50_delayed_hi],
        'Day-two proxy': [entropy50_proxy_lo, entropy50_proxy_hi],
        'Oracle': [entropy50_oracle_lo, entropy50_oracle_hi]
      } },
    { row: 1, col: 2, lines: {
        'Progressive': entropy200_progressive,
        'Delayed': entropy200_delayed,
        'Day-two proxy': entropy200_proxy,
        'Oracle': entropy200_oracle
      }, bandDays: BAND_DAYS, bands: {
        'Progressive': [entropy200_progressive_lo, entropy200_progressive_hi],
        'Delayed': [entropy200_delayed_lo, entropy200_delayed_hi],
        'Day-two proxy': [entropy200_proxy_lo, entropy200_proxy_hi],
        'Oracle': [entropy200_oracle_lo, entropy200_oracle_hi]
      } }
];

// band = one filled polygon between lo and hi, placed through the axis scales
function bandSeries(idx, color, days, lo, hi) {
    return {
        type: 'custom', xAxisIndex: idx, yAxisIndex: idx, silent: true, z: 1, clip: true,
        data: days.map(function (d, i) { return [d, lo[i], hi[i]]; }),
        encode: { x: 0, y: [1, 2] },
        renderItem: function (params, api) {
            if (params.dataIndex !== 0) return;
            var pts = [], i;
            for (i = 0; i < days.length; i++) pts.push(api.coord([days[i], hi[i]]));
            for (i = days.length - 1; i >= 0; i--) pts.push(api.coord([days[i], lo[i]]));
            return {
                type: 'polygon',
                shape: { points: pts },
                style: { fill: echarts.color.modifyAlpha(color, 0.11), stroke: null }
            };
        }
    };
}

var grids = [], xAxes = [], yAxes = [], series = [];

panels.forEach(function (p, idx) {
    var bottomRow = p.row === 1;
    var yTicks = bottomRow ? ENTROPY_TICKS : REGRET_TICKS;
    grids.push({
        left: COL_LEFT[p.col], top: ROW_TOP[p.row],
        width: COL_WIDTH, height: ROW_HEIGHT[p.row],
        show: true, borderColor: '#222', borderWidth: 1, backgroundColor: 'transparent'
    });
    xAxes.push({
        type: 'value', gridIndex: idx, min: 1, max: 180,
        name: bottomRow ? 'Days' : '', nameLocation: 'middle', nameGap: 43,
        nameTextStyle: { fontFamily: FONT, fontSize: 15, color: '#1a1a1a' },
        axisLine: { show: true, onZero: false, lineStyle: { color: '#222', width: 1 } },
        axisTick: { show: true, length: 6, customValues: X_TICKS, lineStyle: { color: '#222', width: 1 } },
        axisLabel: { show: bottomRow, customValues: X_TICKS, margin: 17, fontFamily: FONT, fontSize: 13, color: '#1a1a1a' },
        splitLine: { show: true, lineStyle: { color: '#d6d6d6', width: 1.6 } }
    });
    yAxes.push({
        type: 'value', gridIndex: idx, min: 0, max: bottomRow ? 5 : 7,
        name: p.col === 0 ? (bottomRow ? 'Entropy' : 'Average regret') : '',
        nameLocation: 'middle', nameRotate: 90, nameGap: 37,
        nameTextStyle: { fontFamily: FONT, fontSize: 14.5, color: '#1a1a1a' },
        axisLine: { show: true, onZero: false, lineStyle: { color: '#222', width: 1 } },
        axisTick: { show: true, length: 6, customValues: yTicks, lineStyle: { color: '#222', width: 1 } },
        axisLabel: { customValues: yTicks, margin: 13, fontFamily: FONT, fontSize: 13, color: '#1a1a1a' },
        splitLine: { show: true, lineStyle: { color: '#d6d6d6', width: 1.6 } }
    });

    METHODS.forEach(function (m) {
        series.push(bandSeries(idx, COLORS[m], p.bandDays, p.bands[m][0], p.bands[m][1]));
    });
    METHODS.forEach(function (m) {
        series.push({
            type: 'line', name: m, xAxisIndex: idx, yAxisIndex: idx,
            data: p.lines[m], symbol: 'none', showSymbol: false, smooth: false,
            lineStyle: { color: COLORS[m], width: 1.8, join: 'round' }, itemStyle: { color: COLORS[m] },
            silent: true, z: 3
        });
    });
});

var titleCenters = [249.5, 691, 1133];
var titles = PANEL_TITLES.map(function (n, i) {
    return {
        text: '{a|' + n + ' actions / day (}{i|N}{a| = 200)}',
        left: titleCenters[i] - 5, top: 5, textAlign: 'center',
        textStyle: { fontWeight: 'normal', rich: {
            a: { fontFamily: FONT, fontSize: 19, fontWeight: 'normal', color: '#111' },
            i: { fontFamily: FONT, fontSize: 19, fontWeight: 'normal', fontStyle: 'italic', color: '#111' }
        } }
    };
});

var legendText = { fontFamily: FONT, fontSize: 15, color: '#111', padding: [0, 0, 0, 8], lineHeight: 18 };

var option = {
    animation: false,
    backgroundColor: '#fff',
    title: titles,
    grid: grids,
    xAxis: xAxes,
    yAxis: yAxes,
    legend: [
        { data: ['Progressive', 'Delayed'], orient: 'vertical', left: 85, top: 276, icon: 'rect',
          itemWidth: 30, itemHeight: 2, itemGap: 9, selectedMode: false, textStyle: legendText, z: 6 },
        { data: ['Day-two proxy', 'Oracle'], orient: 'vertical', left: 253, top: 276, icon: 'rect',
          itemWidth: 30, itemHeight: 2, itemGap: 9, selectedMode: false, textStyle: legendText, z: 6 }
    ],
    graphic: [{
        type: 'rect', left: 83, top: 273, z: 5, silent: true,
        shape: { width: 342, height: 59, r: 4 },
        style: { fill: 'rgba(255,255,255,0.85)', stroke: '#cfcfcf', lineWidth: 1.5 }
    }],
    series: series
};

var chart = echarts.init(document.getElementById('chart'));
chart.setOption(option);
</script>
</body>
</html>
